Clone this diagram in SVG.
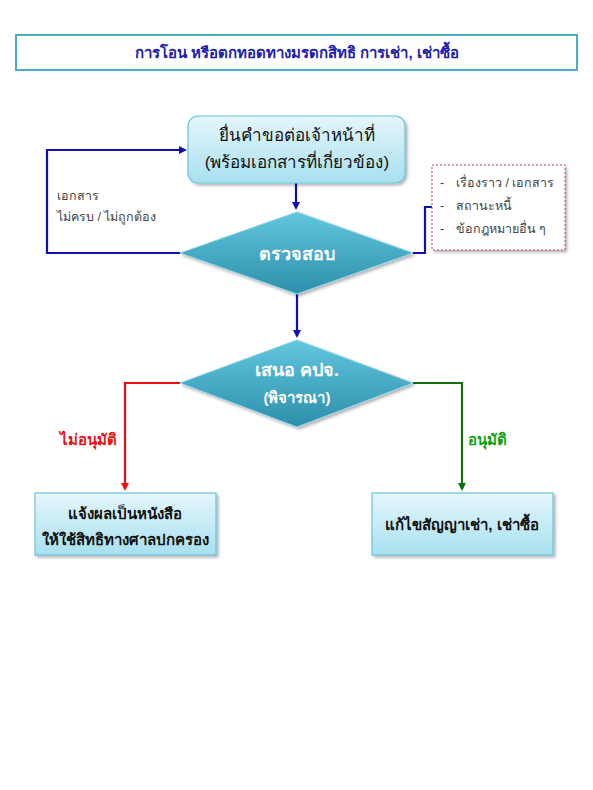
<svg xmlns="http://www.w3.org/2000/svg" width="593" height="790" viewBox="0 0 593 790">
<style>
text{font-family:"Liberation Sans","Noto Sans","DejaVu Sans",sans-serif}
.ttl{font-size:15px;font-weight:bold;fill:#2020b0;text-anchor:middle}
.box{fill:url(#gBox);stroke:#6cc4dc;stroke-width:1.2}
.btx{font-size:17px;fill:#111;text-anchor:middle}
.bbtx{font-size:15px;font-weight:bold;fill:#111;text-anchor:middle}
.dia{fill:url(#gDia);stroke:#8fd4e6;stroke-width:1}
.dtx{font-size:18px;font-weight:bold;fill:#fff;text-anchor:middle}
.dtx2{font-size:15px;font-weight:bold;fill:#fff;text-anchor:middle}
.note{font-size:12.5px;fill:#444}
.blue{fill:none;stroke:#1010b0;stroke-width:2.2}
.red{fill:none;stroke:#ee1010;stroke-width:2.2}
.green{fill:none;stroke:#107010;stroke-width:2.2}
</style>
<defs>
<linearGradient id="gBox" x1="0" y1="0" x2="0" y2="1">
<stop offset="0" stop-color="#e4f6fb"/><stop offset="1" stop-color="#a8e0ef"/>
</linearGradient>
<linearGradient id="gDia" x1="0" y1="0" x2="0" y2="1">
<stop offset="0" stop-color="#62c6df"/><stop offset="1" stop-color="#2d8fab"/>
</linearGradient>
<filter id="sh" x="-10%" y="-10%" width="130%" height="140%">
<feDropShadow dx="2" dy="2" stdDeviation="1.5" flood-color="#000" flood-opacity="0.3"/>
</filter>
<marker id="aB" markerWidth="8" markerHeight="8" refX="6" refY="4" orient="auto" markerUnits="userSpaceOnUse"><path d="M0,0 L8,4 L0,8 z" fill="#1010b0"/></marker>
<marker id="aR" markerWidth="8" markerHeight="8" refX="6" refY="4" orient="auto" markerUnits="userSpaceOnUse"><path d="M0,0 L8,4 L0,8 z" fill="#ee1010"/></marker>
<marker id="aG" markerWidth="8" markerHeight="8" refX="6" refY="4" orient="auto" markerUnits="userSpaceOnUse"><path d="M0,0 L8,4 L0,8 z" fill="#107010"/></marker>
</defs>
<rect width="593" height="790" fill="#fff"/>

<g id="title">
<rect x="16" y="35" width="561" height="35" fill="#fff" stroke="#4bacc6" stroke-width="2"/>
<text class="ttl" x="297" y="58">การโอน หรือตกทอดทางมรดกสิทธิ การเช่า, เช่าซื้อ</text>
</g>

<g id="connectors">
<path class="blue" d="M296,183 V208" marker-end="url(#aB)"/>
<path class="blue" d="M180,253 H47 V150 H185" marker-end="url(#aB)"/>
<path class="blue" d="M413,253 H425 V207 H432"/>
<path class="blue" d="M297,294 V336" marker-end="url(#aB)"/>
<path class="red" d="M180,383 H125 V489" marker-end="url(#aR)"/>
<path class="green" d="M413,383 H462 V489" marker-end="url(#aG)"/>
</g>

<g id="submit">
<rect class="box" x="188" y="116" width="217" height="67" rx="10" filter="url(#sh)"/>
<text class="btx" x="297" y="141">ยื่นคำขอต่อเจ้าหน้าที่</text>
<text class="btx" x="297" y="168">(พร้อมเอกสารที่เกี่ยวข้อง)</text>
</g>

<g id="incomplete-label">
<text class="note" x="57" y="200">เอกสาร</text>
<text class="note" x="57" y="221">ไม่ครบ / ไม่ถูกต้อง</text>
</g>

<g id="check">
<polygon class="dia" points="297,212 413,253 297,294 180,253" filter="url(#sh)"/>
<text class="dtx" x="297" y="260">ตรวจสอบ</text>
</g>

<g id="checklist">
<rect x="432" y="165" width="133" height="85" fill="#fff" stroke="#c04050" stroke-width="1" stroke-dasharray="2,2" filter="url(#sh)"/>
<text class="note" x="440" y="187">-</text><text class="note" x="456" y="187">เรื่องราว / เอกสาร</text>
<text class="note" x="440" y="210">-</text><text class="note" x="456" y="210">สถานะหนี้</text>
<text class="note" x="440" y="233">-</text><text class="note" x="456" y="233">ข้อกฎหมายอื่น ๆ</text>
</g>

<g id="propose">
<polygon class="dia" points="297,340 413,383 297,427 180,383" filter="url(#sh)"/>
<text class="dtx" x="297" y="376">เสนอ คปจ.</text>
<text class="dtx2" x="297" y="403">(พิจารณา)</text>
</g>

<g id="labels">
<text x="60" y="445" font-size="15" font-weight="bold" fill="#ee1010">ไม่อนุมัติ</text>
<text x="468" y="445" font-size="15" font-weight="bold" fill="#10a010">อนุมัติ</text>
</g>

<g id="reject">
<rect class="box" x="35" y="493" width="181" height="62" filter="url(#sh)"/>
<text class="bbtx" x="125" y="519">แจ้งผลเป็นหนังสือ</text>
<text class="bbtx" x="125" y="545">ให้ใช้สิทธิทางศาลปกครอง</text>
</g>

<g id="approve">
<rect class="box" x="372" y="493" width="181" height="62" filter="url(#sh)"/>
<text class="bbtx" x="462" y="530">แก้ไขสัญญาเช่า, เช่าซื้อ</text>
</g>
</svg>
